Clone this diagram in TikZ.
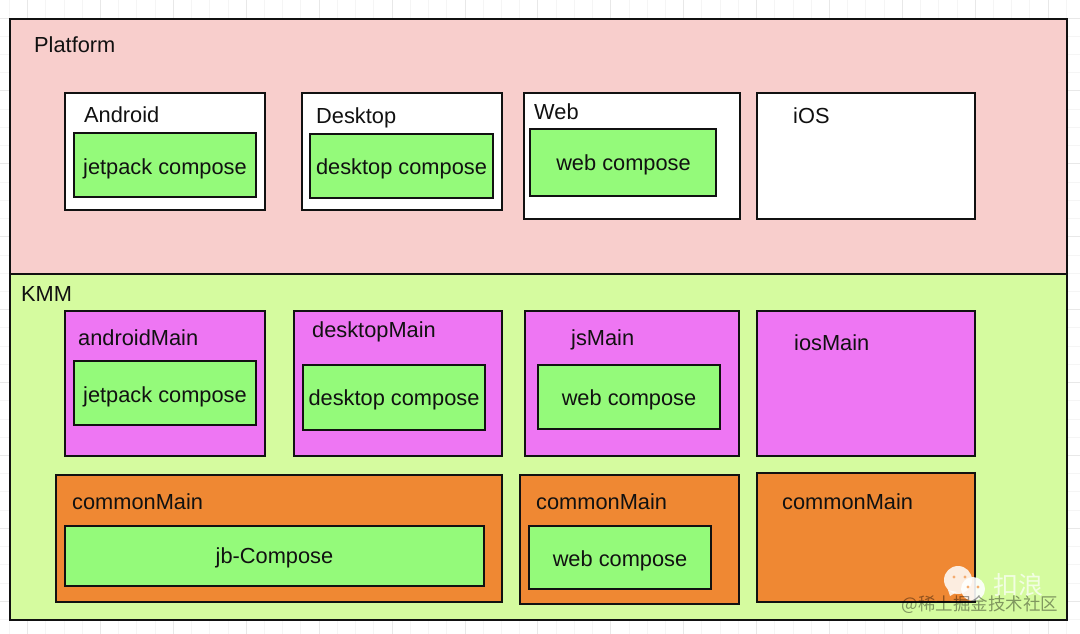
\documentclass[tikz,border=0pt]{standalone}
\usepackage{fontspec}
\setmainfont{Liberation Sans}
\newfontfamily\cjk{Noto Sans CJK SC}
\definecolor{plat}{HTML}{F8CECC}
\definecolor{kmm}{HTML}{D5FB9F}
\definecolor{grn}{HTML}{94FA7A}
\definecolor{mag}{HTML}{EE76F3}
\definecolor{org}{HTML}{EF8833}
\definecolor{ink}{HTML}{111111}
\tikzset{
 x=1pt,y=-1pt,
 boxst/.style={draw=ink,line width=2pt},
 lab/.style={font=\fontsize{21.8}{24}\selectfont,text=ink,inner sep=0pt},
 minorgrid/.style={draw=black!4,line width=.8pt},
 majorgrid/.style={draw=black!9,line width=.8pt},
}
\newcommand{\bx}[5]{\path[boxst,fill=#5] (#1,#2) rectangle (#3,#4);}
\begin{document}
\begin{tikzpicture}
\useasboundingbox (0,0) rectangle (1080,634);
\fill[white] (0,0) rectangle (1080,634);
% background grid
\foreach \k in {-1,...,59}{
  \pgfmathsetmacro{\gx}{27.5+18.225*\k}
  \draw[minorgrid] (\gx,0) -- (\gx,634);
}
\foreach \k in {-1,...,35}{
  \pgfmathsetmacro{\gy}{18+18.225*\k}
  \draw[minorgrid] (0,\gy) -- (1080,\gy);
}
\foreach \k in {0,...,14}{
  \pgfmathsetmacro{\gx}{27.5+72.9*\k}
  \draw[majorgrid] (\gx,0) -- (\gx,634);
}
\foreach \k in {0,...,8}{
  \pgfmathsetmacro{\gy}{18+72.9*\k}
  \draw[majorgrid] (0,\gy) -- (1080,\gy);
}
\bx{10}{19}{1067}{274}{plat}
\bx{10}{274}{1067}{620}{kmm}
% white platform boxes
\bx{65}{93}{265}{210}{white}
\bx{302}{93}{502}{210}{white}
\bx{524}{93}{740}{219}{white}
\bx{757}{93}{975}{219}{white}
% magenta
\bx{65}{311}{265}{456}{mag}
\bx{294}{311}{502}{456}{mag}
\bx{525}{311}{739}{456}{mag}
\bx{757}{311}{975}{456}{mag}
% orange
\bx{56}{475}{502}{602}{org}
\bx{520}{475}{739}{604}{org}
\bx{757}{473}{975}{602}{org}
% green
\bx{74}{133}{256}{197}{grn}
\bx{310}{134}{493}{198}{grn}
\bx{530}{129}{716}{196}{grn}
\bx{74}{361}{256}{425}{grn}
\bx{303}{365}{485}{430}{grn}
\bx{538}{365}{720}{429}{grn}
\bx{65}{526}{484}{586}{grn}
\bx{529}{526}{711}{589}{grn}
% labels
\node[lab,anchor=base west] (t1) at (34,53) {Platform};
\node[lab,anchor=base west] (t2) at (84,122) {Android};
\node[lab,anchor=base west] (t3) at (316,124) {Desktop};
\node[lab,anchor=base west] (t4) at (534,119) {Web};
\node[lab,anchor=base west] (t5) at (793,124) {iOS};
\node[lab,anchor=base west] (t6) at (21,301) {KMM};
\node[lab,anchor=base west] (t7) at (78,345) {androidMain};
\node[lab,anchor=base west] (t8) at (312,337) {desktopMain};
\node[lab,anchor=base west] (t9) at (571,345) {jsMain};
\node[lab,anchor=base west] (t10) at (794,350) {iosMain};
\node[lab,anchor=base west] (t11) at (72,509) {commonMain};
\node[lab,anchor=base west] (t12) at (536,509) {commonMain};
\node[lab,anchor=base west] (t13) at (782,509) {commonMain};
\node[lab,anchor=base] (g1) at (165,174) {jetpack compose};
\node[lab,anchor=base] (g2) at (401.5,174) {desktop compose};
\node[lab,anchor=base] (g3) at (623.5,170) {web compose};
\node[lab,anchor=base] (g4) at (165,402) {jetpack compose};
\node[lab,anchor=base] (g5) at (394,405) {desktop compose};
\node[lab,anchor=base] (g6) at (629,405) {web compose};
\node[lab,anchor=base] (g7) at (274.5,563) {jb-Compose};
\node[lab,anchor=base] (g8) at (620,566) {web compose};
% watermark
\fill[white,opacity=.85] (958,580) circle (14);
\fill[white,opacity=.85] (948,590) -- (950,596) -- (957,592) -- cycle;
\fill[org!70!white] (954,577) circle (1.6) (965,577) circle (1.6);
\fill[white,opacity=.9] (973,589) circle (12);
\fill[org!70!white] (968,587) circle (1.6) (978,587) circle (1.6);
\node[font=\cjk\fontsize{25}{27}\selectfont,text=white,opacity=.7,inner sep=0pt] (w1) at (1018,585) {扣浪};
\node[font=\cjk\fontsize{17.5}{19}\selectfont,text=black,opacity=.4,inner sep=0pt] (w2) at (980,605) {@稀土掘金技术社区};
\end{tikzpicture}
\end{document}
